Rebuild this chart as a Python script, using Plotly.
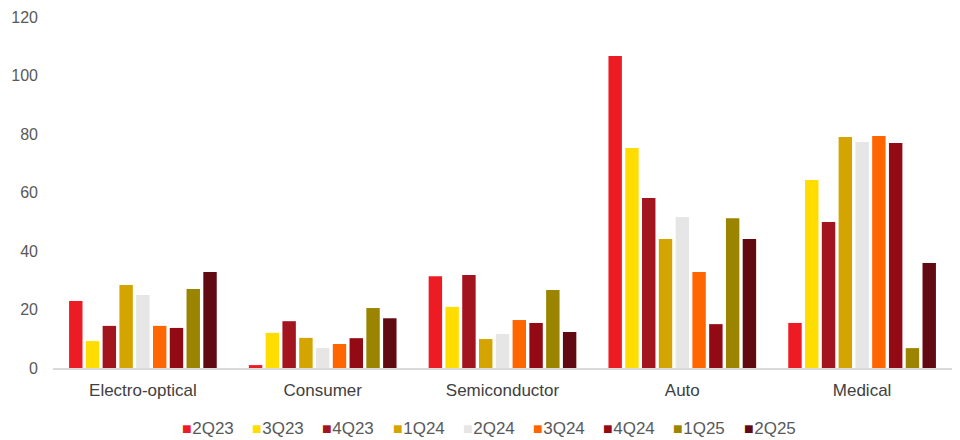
import plotly.graph_objects as go

categories = ["Electro-optical", "Consumer", "Semiconductor", "Auto", "Medical"]
series_names = ["2Q23", "3Q23", "4Q23", "1Q24", "2Q24", "3Q24", "4Q24", "1Q25", "2Q25"]
v_2Q23 = [22.9, 1.0, 31.4, 106.7, 15.4]
v_3Q23 = [9.2, 12.0, 20.9, 75.2, 64.3]
v_4Q23 = [14.4, 16.0, 31.8, 58.1, 49.9]
v_1Q24 = [28.4, 10.3, 9.9, 44.1, 79.0]
v_2Q24 = [25.0, 6.8, 11.6, 51.6, 77.3]
v_3Q24 = [14.4, 8.2, 16.4, 32.8, 79.3]
v_4Q24 = [13.7, 10.2, 15.4, 15.0, 76.9]
v_1Q25 = [27.0, 20.5, 26.7, 51.2, 6.8]
v_2Q25 = [32.8, 17.0, 12.3, 44.1, 35.9]
series_values = [v_2Q23, v_3Q23, v_4Q23, v_1Q24, v_2Q24, v_3Q24, v_4Q24, v_1Q25, v_2Q25]
colors = ["#ED1C24", "#FFDD00", "#A2141E", "#D4A500", "#E6E6E6", "#FF6600", "#940A14", "#9A8400", "#620A12"]
y_ticks = [0, 20, 40, 60, 80, 100, 120]

W, H = 960, 440
ML, MR, MT, MB = 53, 8, 17, 72
plot_w = W - ML - MR
plot_h = H - MT - MB

fig = go.Figure()
for name, vals, col in zip(series_names, series_values, colors):
    fig.add_trace(go.Bar(name=name, x=categories, y=vals, marker=dict(color=col, line=dict(width=0)),
                         showlegend=False))

# custom legend (text annotations) to match compact legend layout
leg_start_px, leg_pitch_px, leg_y_px = 180, 70.2, 428
annotations = []
for i, (name, col) in enumerate(zip(series_names, colors)):
    px = leg_start_px + i * leg_pitch_px
    annotations.append(dict(
        xref="paper", yref="paper",
        x=(px - ML) / plot_w, y=(H - MB - leg_y_px) / plot_h,
        xanchor="left", yanchor="middle", showarrow=False,
        text=f'<span style="color:{col};font-size:16px">■</span><span style="font-size:2px"> </span>{name}',
        font=dict(family="Liberation Sans, Arial, sans-serif", size=17, color="#595959"),
    ))

fig.update_layout(
    width=W, height=H,
    margin=dict(l=ML, r=MR, t=MT, b=MB),
    barmode="group", bargap=0.16, bargroupgap=0.2,
    plot_bgcolor="white", paper_bgcolor="white",
    font=dict(family="Liberation Sans, Arial, sans-serif", size=16, color="#595959"),
    showlegend=False,
    annotations=annotations,
    xaxis=dict(showline=True, linecolor="#D9D9D9", linewidth=2, ticks="", showgrid=False,
               tickfont=dict(size=17, color="#404040"), ticklabelstandoff=6),
    yaxis=dict(range=[0, 120], tickvals=y_ticks, showgrid=False, zeroline=False, showline=False,
               ticks="", tickfont=dict(size=16, color="#595959"), ticklabelstandoff=14),
)

fig.write_html("out.html")
